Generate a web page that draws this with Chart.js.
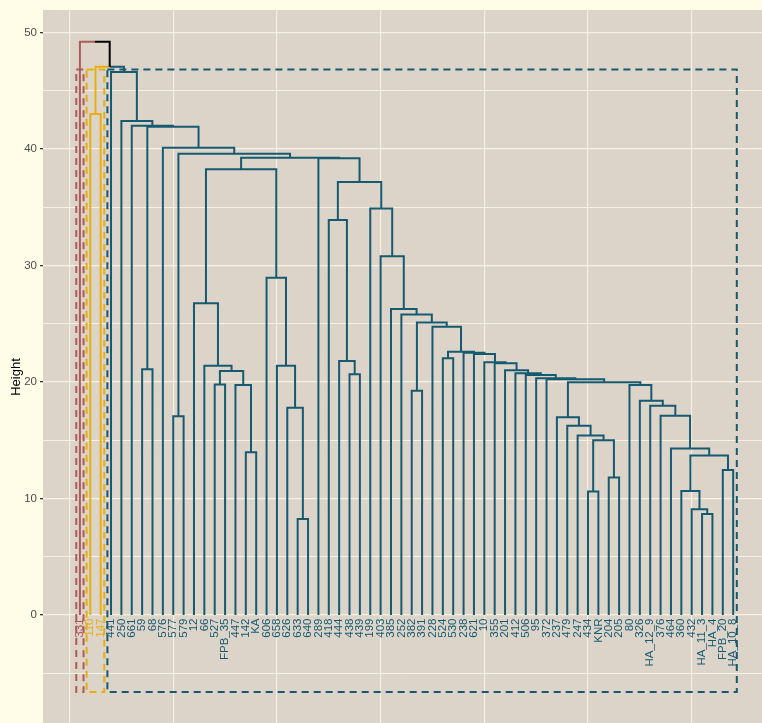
<!DOCTYPE html>
<html>
<head>
<meta charset="utf-8">
<script src="https://cdn.jsdelivr.net/npm/chart.js@4.4.0/dist/chart.umd.min.js"></script>
<style>
  html, body { margin: 0; padding: 0; background: #FFFCE8; }
  #wrap { width: 762px; height: 723px; position: relative; }
</style>
</head>
<body>
<div id="wrap"><canvas id="dend"></canvas></div>
<script>
// Leaves, left to right as they appear under the tree
const leafLabels = ['331', '110', '147', '441', '250', '661', '59', '68', '576', '577',
    '579', '12', '66', '527', 'FPB_35', '447', '142', 'KA', '606', '658',
    '626', '633', '640', '289', '418', '444', '438', '439', '199', '403',
    '385', '252', '382', '391', '228', '524', '530', '238', '621', '10',
    '355', '201', '412', '506', '95', '372', '237', '479', '247', '434',
    'KNR', '204', '205', '80', '326', 'HA_12_9', '376', '464', '360', '432',
    'HA_11_3', 'HA_4', 'FPB_20', 'HA_10_8'];

// Merges, hclust style: negative = leaf position (1-based), positive = earlier merge row
const mergeLeft = [-61, -22, -60, -50, -59, -52, -63, 5, -17, -58,
    4, -49, -48, -47, -10, -57, -21, -56, -55, -33,
    -14, -16, -54, 14, -46, -45, -44, -27, -43, 21,
    -42, -7, -13, -20, -41, -40, -26, -36, -39, -38,
    38, -35, 20, -32, -31, -12, -19, -30, -25, -29,
    49, 46, -24, 52, 15, -9, 32, -6, -5, -2,
    -4, 60, -1];
const mergeRight = [-62, -23, 1, -51, 3, -53, -64, 7, -18, 8,
    6, 11, 12, 13, -11, 10, 2, 16, 18, -34,
    -15, 9, 19, 23, 24, 25, 26, -28, 27, 22,
    29, -8, 30, 17, 31, 35, 28, -37, 36, 39,
    40, 41, 42, 43, 44, 33, 34, 45, 37, 48,
    50, 47, 51, 53, 54, 55, 56, 57, 58, -3,
    59, 61, 62];
const mergeHeight = [8.67, 8.24, 9.07, 10.6, 10.65, 11.8, 12.45, 13.7, 13.97, 14.3,
    15.0, 15.4, 16.25, 16.97, 17.05, 17.1, 17.8, 17.97, 18.4, 19.25,
    19.78, 19.74, 19.74, 19.97, 20.23, 20.32, 20.6, 20.66, 20.75, 20.94,
    21.0, 21.1, 21.4, 21.4, 21.6, 21.7, 21.8, 22.03, 22.4, 22.5,
    22.6, 24.75, 25.1, 25.8, 26.27, 26.75, 28.95, 30.8, 33.9, 34.9,
    37.17, 38.26, 39.2, 39.25, 39.6, 40.1, 41.9, 42.0, 42.4, 43.0,
    46.6, 47.06, 49.2];

const heightTicks = [0, 10, 20, 30, 40, 50];
const clusterCount = 3;

// styles
const clusterColours = ['#AD5B5B', '#E6AF14', '#165A72'];
const aboveCutColour = '#000000';
const panelColour = '#DCD4C9';
const gridColour = '#F7F1E3';
const fontFamily = '"Liberation Sans", Arial, sans-serif';
const rectBottom = -6.6;
const rectPad = 0.35;

// Node positions
const nodeX = [];
const nodeLeaves = [];
const childX = c => c < 0 ? -c : nodeX[c - 1];
const childH = c => c < 0 ? 0 : mergeHeight[c - 1];
const childLeaves = c => c < 0 ? [-c] : nodeLeaves[c - 1];
for (let i = 0; i < mergeHeight.length; i++) {
    nodeX[i] = (childX(mergeLeft[i]) + childX(mergeRight[i])) / 2;
    nodeLeaves[i] = childLeaves(mergeLeft[i]).concat(childLeaves(mergeRight[i]));
}

// Cut the tree into clusterCount groups
const byHeight = mergeHeight.map((h, i) => i).sort((a, b) => mergeHeight[b] - mergeHeight[a]);
const aboveCut = new Set(byHeight.slice(0, clusterCount - 1));
const groups = [];
aboveCut.forEach(i => {
    [mergeLeft[i], mergeRight[i]].forEach(c => {
        if (c > 0 && aboveCut.has(c - 1)) return;
        groups.push(childLeaves(c));
    });
});
groups.sort((a, b) => Math.min(...a) - Math.min(...b));
const leafGroup = [];
groups.forEach((g, gi) => g.forEach(l => { leafGroup[l] = gi; }));
const cutHeight = (mergeHeight[byHeight[clusterCount - 2]] + mergeHeight[byHeight[clusterCount - 1]]) / 2;

const groupOf = c => {
    const ls = childLeaves(c);
    const g = leafGroup[ls[0]];
    return ls.every(l => leafGroup[l] === g) ? g : -1;
};

// Elbow from each child up to its parent, coloured like the child
const branchPoints = { '-1': [] };
clusterColours.forEach((_, gi) => { branchPoints[gi] = []; });
for (let i = 0; i < mergeHeight.length; i++) {
    [mergeLeft[i], mergeRight[i]].forEach(c => {
        const pts = branchPoints[groupOf(c)];
        pts.push({ x: childX(c), y: childH(c) });
        pts.push({ x: childX(c), y: mergeHeight[i] });
        pts.push({ x: nodeX[i], y: mergeHeight[i] });
        pts.push({ x: nodeX[i], y: null });
    });
}

const datasets = [];
groups.forEach((g, gi) => {
    const x0 = Math.min(...g) - rectPad;
    const x1 = Math.max(...g) + rectPad;
    datasets.push({
        data: [
            { x: x0, y: cutHeight }, { x: x1, y: cutHeight },
            { x: x1, y: rectBottom }, { x: x0, y: rectBottom }, { x: x0, y: cutHeight }
        ],
        borderColor: clusterColours[gi],
        borderWidth: 2,
        borderDash: [7, 5],
        order: 2
    });
});
clusterColours.forEach((col, gi) => {
    datasets.push({ data: branchPoints[gi], borderColor: col, borderWidth: 2, order: 1 });
});
datasets.push({ data: branchPoints['-1'], borderColor: aboveCutColour, borderWidth: 2, order: 0 });

const gridY = [];
for (let v = -5; v <= 50; v += 5) gridY.push(v);
const gridX = [0, 10, 20, 30, 40, 50, 60];

// Panel background, leaf labels and axis title
const dendPlugin = {
    id: 'dendDecor',
    beforeDraw(chart) {
        const { ctx, chartArea: a } = chart;
        ctx.save();
        ctx.fillStyle = '#FFFCE8';
        ctx.fillRect(0, 0, chart.width, chart.height);
        ctx.fillStyle = panelColour;
        ctx.fillRect(a.left, a.top, a.right - a.left, a.bottom - a.top);
        ctx.restore();
    },
    afterDatasetsDraw(chart) {
        const { ctx, scales: { x, y } } = chart;
        ctx.save();
        ctx.font = '11.5px ' + fontFamily;
        ctx.textAlign = 'right';
        ctx.textBaseline = 'middle';
        leafLabels.forEach((lab, i) => {
            ctx.save();
            ctx.translate(x.getPixelForValue(i + 1), y.getPixelForValue(-0.3));
            ctx.rotate(-Math.PI / 2);
            ctx.fillStyle = clusterColours[leafGroup[i + 1]];
            ctx.fillText(lab, 0, 0);
            ctx.restore();
        });
        ctx.translate(16, 377);
        ctx.rotate(-Math.PI / 2);
        ctx.textAlign = 'center';
        ctx.fillStyle = '#000000';
        ctx.font = '13px ' + fontFamily;
        ctx.fillText('Height', 0, 0);
        ctx.restore();
    }
};

new Chart(document.getElementById('dend'), {
    type: 'line',
    data: { datasets: datasets },
    options: {
        responsive: true,
        maintainAspectRatio: false,
        animation: false,
        layout: { padding: { left: 0, top: 10, right: 0, bottom: 0 } },
        datasets: {
            line: {
                pointRadius: 0,
                tension: 0,
                fill: false,
                spanGaps: false,
                borderJoinStyle: 'miter',
                borderCapStyle: 'butt'
            }
        },
        plugins: {
            legend: { display: false },
            tooltip: { enabled: false }
        },
        scales: {
            x: {
                type: 'linear',
                min: -2.56,
                max: 66.78,
                afterBuildTicks: axis => { axis.ticks = gridX.map(v => ({ value: v })); },
                afterFit: axis => { axis.height = 0; axis.paddingLeft = 0; axis.paddingRight = 0; },
                ticks: { display: false },
                grid: { color: gridColour, lineWidth: 1.1, drawTicks: false },
                border: { display: false }
            },
            y: {
                type: 'linear',
                min: -9.27,
                max: 51.93,
                afterBuildTicks: axis => { axis.ticks = gridY.map(v => ({ value: v })); },
                afterFit: axis => { axis.width = 43; axis.paddingTop = 0; axis.paddingBottom = 0; },
                ticks: {
                    autoSkip: false,
                    padding: 3,
                    color: '#4D4D4D',
                    font: { size: 11.5, family: fontFamily },
                    callback: v => heightTicks.includes(v) ? String(v) : ''
                },
                grid: {
                    color: gridColour,
                    lineWidth: ctx => (ctx.tick && ctx.tick.value % 10 === 0) ? 1.3 : 1,
                    tickLength: 3,
                    tickColor: ctx => (ctx.tick && heightTicks.includes(ctx.tick.value)) ? '#333333' : 'rgba(0,0,0,0)'
                },
                border: { display: false }
            }
        }
    },
    plugins: [dendPlugin]
});
</script>
</body>
</html>
